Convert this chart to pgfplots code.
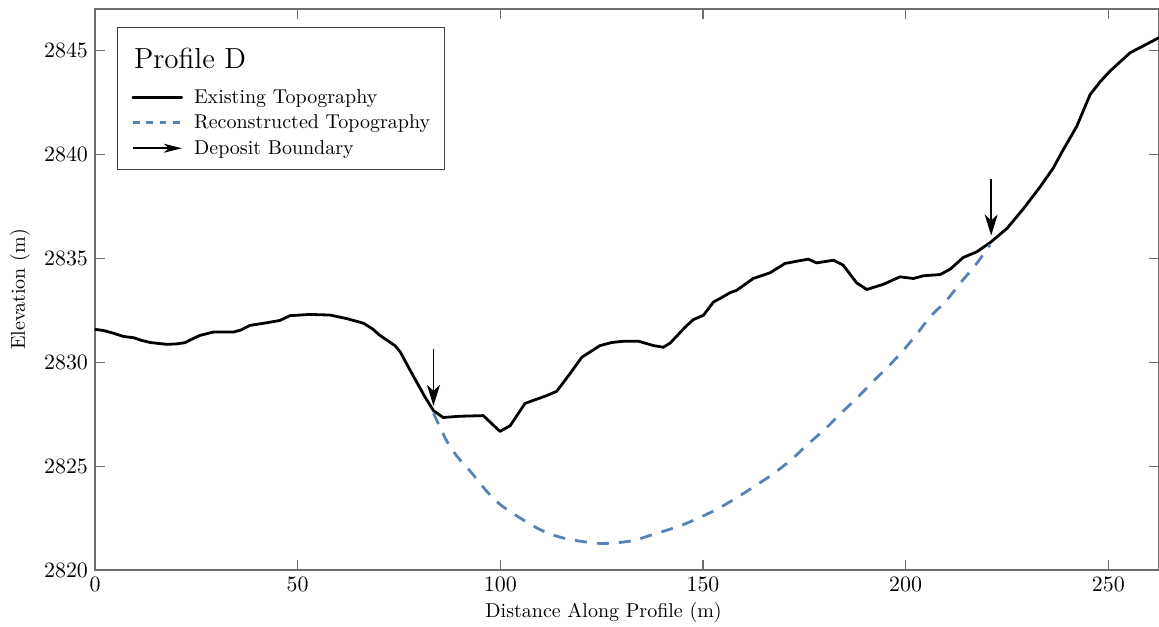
\documentclass[border=0pt]{standalone}
\usepackage{pgfplots}
\pgfplotsset{compat=1.18}
\usetikzlibrary{arrows.meta}
\definecolor{recblue}{RGB}{88,130,182}
\definecolor{axgray}{RGB}{110,110,110}

\begin{document}
\begin{tikzpicture}
\begin{axis}[
    scale only axis,
    width=532pt, height=280.5pt,
    xmin=0, xmax=262.5, ymin=2820, ymax=2847,
    xtick={0,50,...,250}, ytick={2820,2825,...,2845},
    scaled ticks=false,
    /pgf/number format/1000 sep={},
    tick align=inside, major tick length=5pt,
    axis line style={axgray, line width=0.6pt},
    tick style={axgray, line width=0.6pt},
    ticklabel style={font=\fontsize{11}{13}\selectfont},
    xlabel={Distance Along Profile (m)},
    ylabel={Elevation (m)},
    label style={font=\fontsize{10}{12}\selectfont},
    xlabel style={at={(axis description cs:0.478,-0.0749)}, anchor=center},
    ylabel style={at={(axis description cs:-0.0705,0.5)}, anchor=center},
    legend cell align=left,
    legend style={at={(axis description cs:0.0207,0.968)}, anchor=north west,
      draw=black!75, line width=0.5pt, fill=white,
      inner xsep=7pt, inner ysep=5.65pt, row sep=2.75pt, column sep=5.5pt,
      nodes={inner sep=0pt, text height=8pt, text depth=2pt, font=\fontsize{10}{12}\selectfont}},
  ]
  \addlegendimage{empty legend}
  \addlegendentry[font=\fontsize{14.5}{17}\selectfont, text height=15pt, text depth=6.5pt]{\hspace*{-30pt}Profile D}

  % existing ground
  \addplot[black, line width=1.4pt, line join=round, line cap=round,
    legend image code/.code={\draw[black, line width=1.3pt] (0pt,0pt) -- (24.5pt,0pt);}]
    table {
      x y
      0 2831.58
      2 2831.53
      4.5 2831.4
      7 2831.24
      9.5 2831.18
      11.5 2831.05
      13.6 2830.95
      17.7 2830.86
      20 2830.88
      22.2 2830.94
      24 2831.12
      25.9 2831.29
      29.2 2831.45
      34.1 2831.45
      36 2831.55
      38.2 2831.77
      42.4 2831.9
      45.6 2832.01
      48.1 2832.24
      53 2832.3
      58 2832.27
      62.1 2832.1
      66.2 2831.88
      68.5 2831.6
      70.3 2831.29
      74 2830.8
      75.3 2830.5
      77.5 2829.7
      79.4 2829.03
      81.5 2828.3
      83.5 2827.67
      85.9 2827.34
      90 2827.4
      95.8 2827.43
      99.9 2826.67
      102.4 2826.94
      106.1 2828.02
      111.4 2828.39
      113.9 2828.6
      117 2829.4
      120.1 2830.24
      124.6 2830.8
      127.5 2830.95
      130.4 2831.01
      134.1 2831.01
      137.8 2830.8
      140.2 2830.72
      141.9 2830.92
      145.6 2831.69
      147.6 2832.05
      150.1 2832.26
      152.6 2832.9
      154.5 2833.1
      156.7 2833.35
      158.3 2833.46
      162.4 2834.03
      166.5 2834.3
      170.2 2834.75
      173.1 2834.86
      176 2834.96
      178 2834.78
      182.2 2834.91
      184.6 2834.67
      187.9 2833.82
      190.4 2833.5
      194.5 2833.75
      198.6 2834.11
      201.9 2834.03
      204.4 2834.16
      208.5 2834.22
      211 2834.48
      214.2 2835.04
      217.5 2835.31
      220.8 2835.75
      225 2836.44
      229.1 2837.4
      233.2 2838.45
      236.4 2839.34
      238.5 2840.1
      242.2 2841.35
      245.5 2842.88
      248 2843.5
      250.4 2844.01
      255.4 2844.9
      258.6 2845.22
      262.5 2845.62
    };
  \addlegendentry{Existing Topography}

  % reconstructed surface
  \addplot[recblue, line width=1.4pt, dash pattern=on 6pt off 5pt, smooth,
    legend image code/.code={\draw[recblue, line width=1.3pt, dash pattern=on 3.4pt off 3.3pt] (0pt,0pt) -- (24.5pt,0pt);}]
    table {
      x y
      83.5 2827.55
      86.8 2826.2
      89.6 2825.4
      92.5 2824.77
      96.6 2823.8
      99.9 2823.16
      104.9 2822.5
      110.6 2821.87
      116.4 2821.5
      124.6 2821.28
      132 2821.39
      137.7 2821.71
      145.2 2822.19
      152.6 2822.84
      157.9 2823.43
      162.8 2824.04
      167.4 2824.64
      171.9 2825.33
      175.6 2826.01
      180.1 2826.78
      183.8 2827.5
      187.9 2828.26
      192 2829.08
      195.7 2829.79
      199.4 2830.57
      202.7 2831.34
      206 2832.17
      210.1 2832.98
      213.4 2833.79
      217.5 2834.75
      220.8 2835.65
    };
  \addlegendentry{Reconstructed Topography}

  % deposit boundary arrows
  \addplot[black, line width=0.85pt, -{Stealth[length=10.5pt, width=6.5pt, inset=3pt]},
    legend image code/.code={\draw[black, line width=0.85pt, -{Stealth[length=9pt, width=4.5pt, inset=2.5pt]}] (0pt,0pt) -- (24.5pt,0pt);}]
    coordinates {(83.5,2830.65) (83.5,2827.9)};
  \addlegendentry{Deposit Boundary}
  \addplot[black, line width=0.85pt, -{Stealth[length=10.5pt, width=6.5pt, inset=3pt]}, forget plot]
    coordinates {(221.1,2838.8) (221.1,2836.1)};
\end{axis}
\pgfresetboundingbox
\path[use as bounding box] ([shift={(-47.5pt,-28.5pt)}]current axis.south west) rectangle ([shift={(0pt,4.5pt)}]current axis.north east);
\end{tikzpicture}
\end{document}
